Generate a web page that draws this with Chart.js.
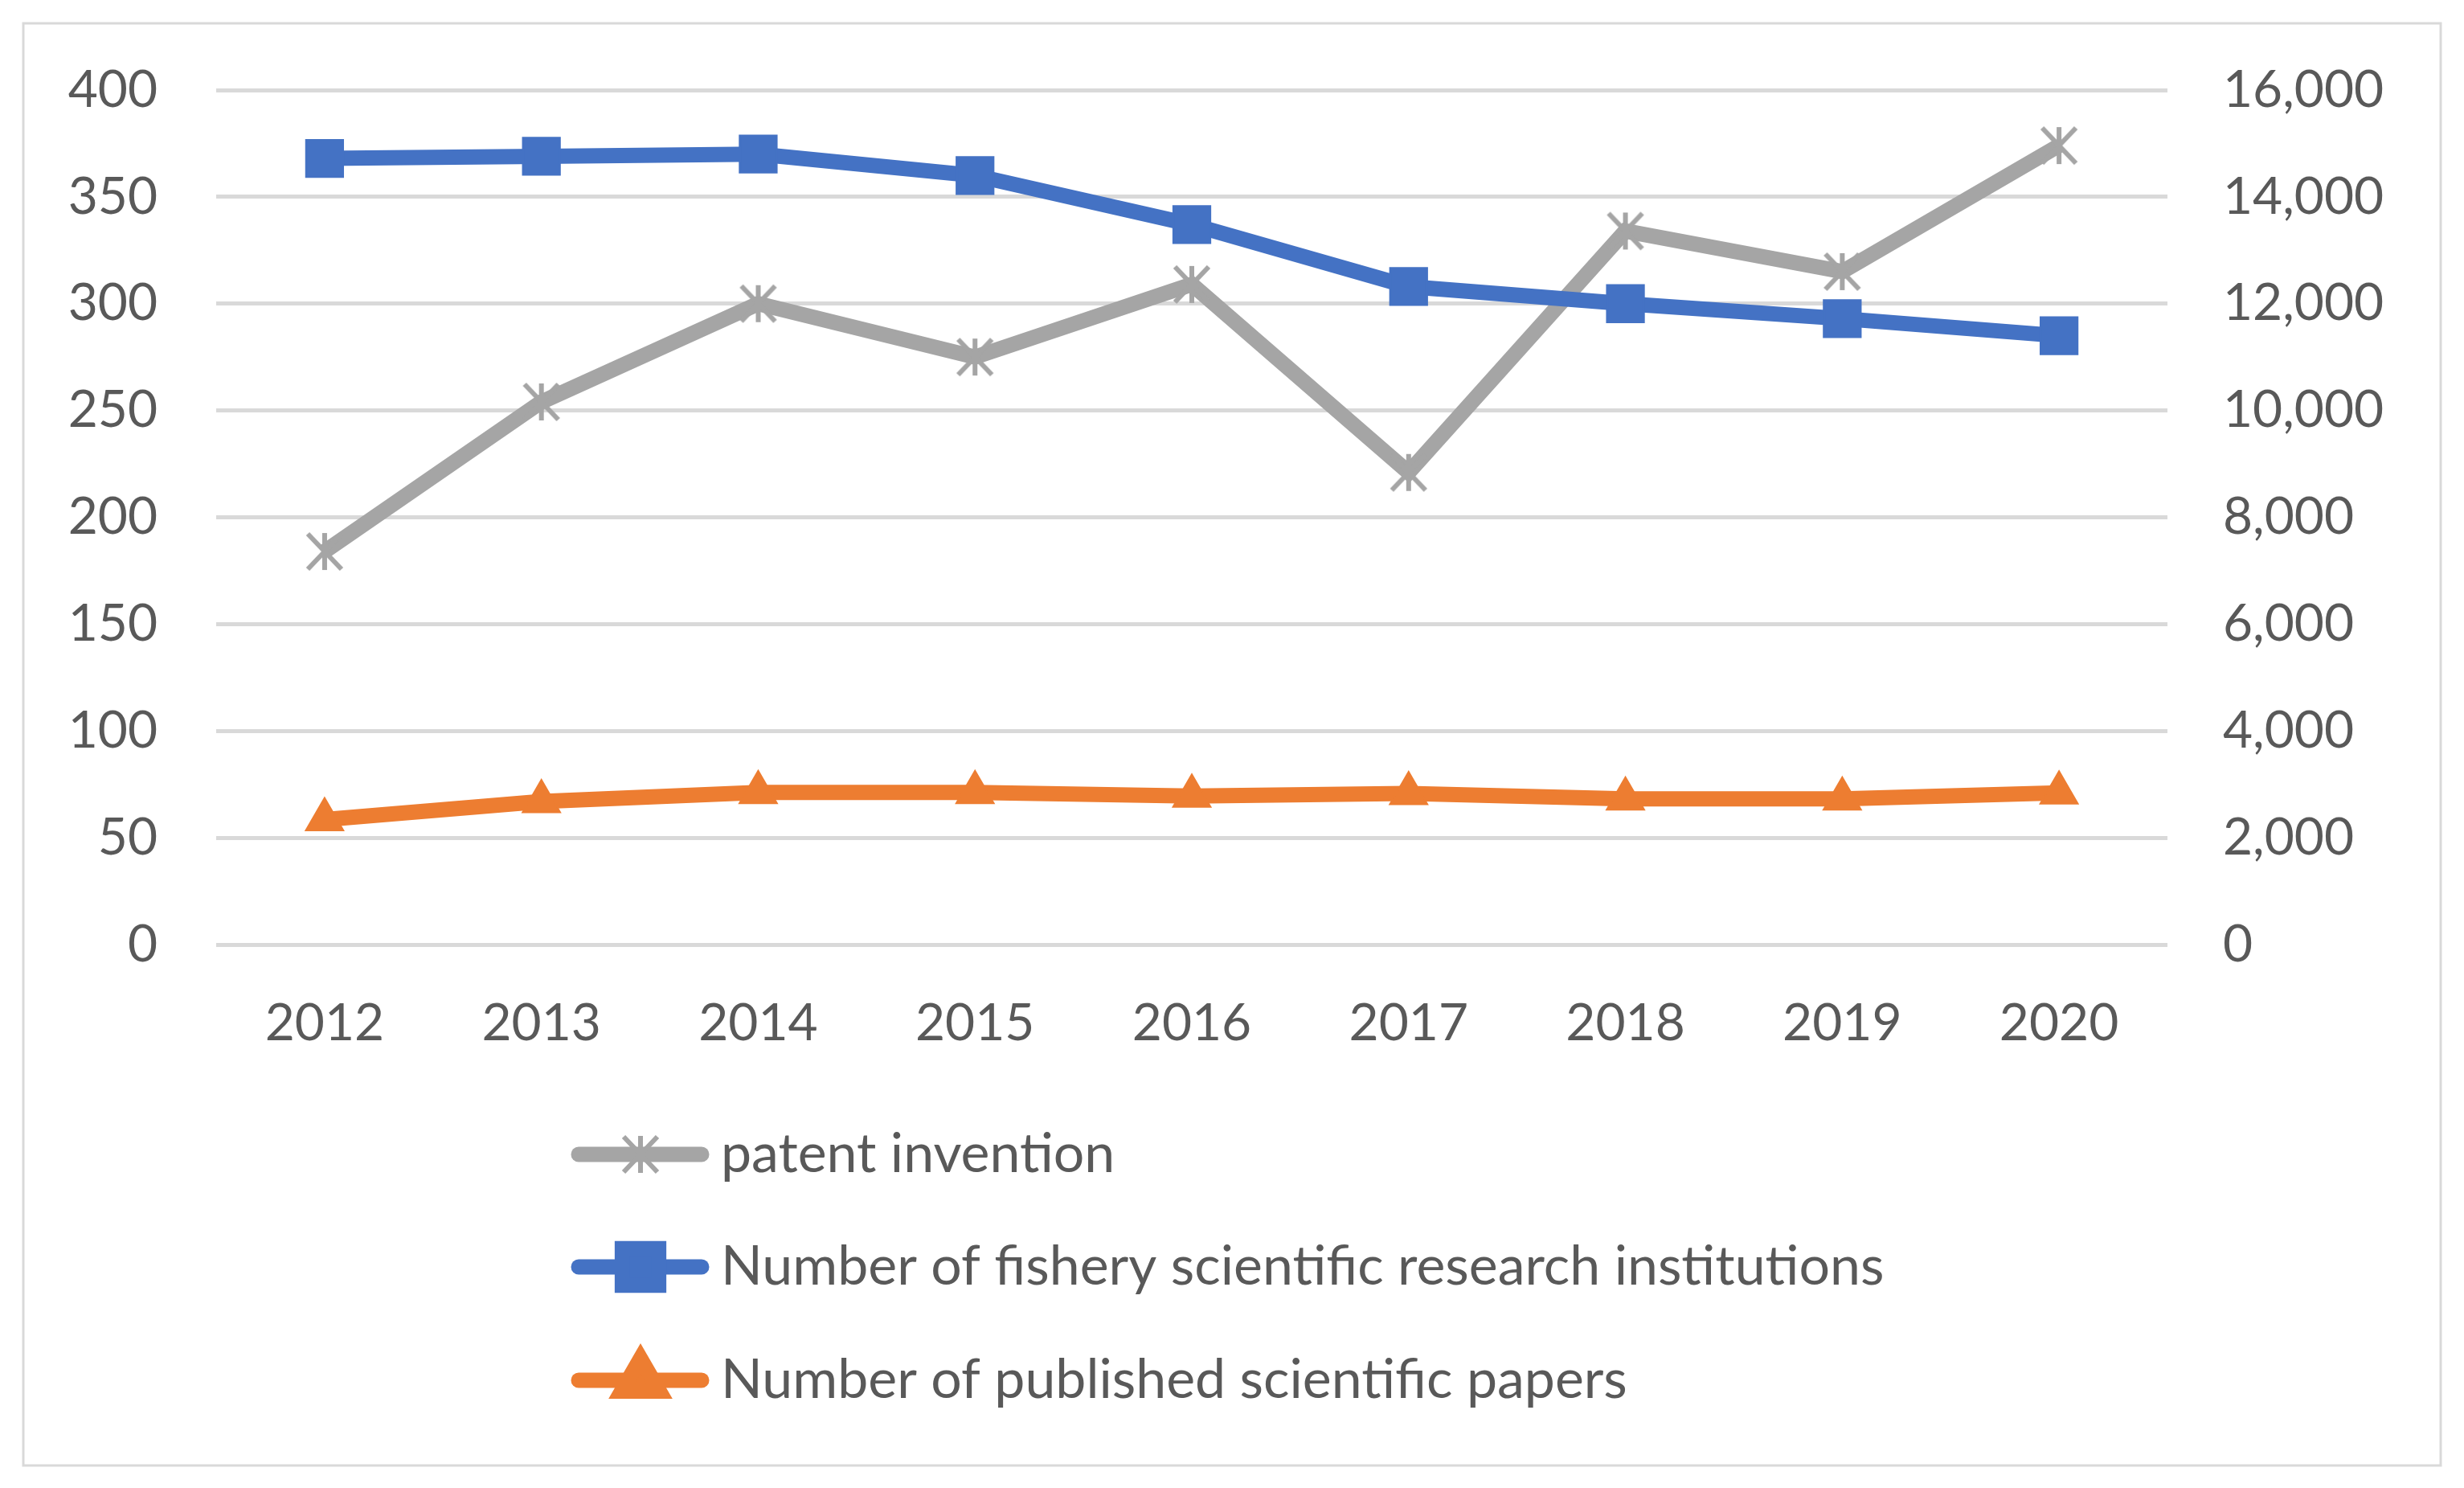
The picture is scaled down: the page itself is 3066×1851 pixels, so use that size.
<!DOCTYPE html>
<html>
<head>
<meta charset="utf-8">
<script src="https://cdn.jsdelivr.net/npm/chart.js@4/dist/chart.umd.min.js"></script>
<style>
  html, body { margin: 0; padding: 0; background: #fff; }
  canvas { display: block; }
</style>
</head>
<body>
<canvas id="chart" width="3066" height="1851"></canvas>
<script>
const years = ["2012", "2013", "2014", "2015", "2016", "2017", "2018", "2019", "2020"];
const patentInvention = [184, 254, 300, 275, 309, 221, 334, 315, 374];
const researchInstitutions = [368, 369, 370, 360, 337, 308, 300, 293, 285];
const publishedPapers = [2340, 2680, 2850, 2850, 2780, 2830, 2730, 2730, 2840];

const leftTicks = [0, 50, 100, 150, 200, 250, 300, 350, 400];
const rightTicks = [0, 2000, 4000, 6000, 8000, 10000, 12000, 14000, 16000];

const textColor = "#595959";
const fontFamily = "Lato, 'Open Sans', sans-serif";

// excel-like asterisk marker: vertical bar plus an X
function makeStar(color) {
  const c = document.createElement("canvas");
  c.width = 52;
  c.height = 52;
  const g = c.getContext("2d");
  g.strokeStyle = color;
  g.lineWidth = 6;
  g.beginPath();
  g.moveTo(26, 3); g.lineTo(26, 49);
  g.moveTo(5, 4); g.lineTo(47, 48);
  g.moveTo(47, 4); g.lineTo(5, 48);
  g.stroke();
  return c;
}

const starMarker = makeStar("#a5a5a5");

// border around the whole picture
const frame = {
  id: "frame",
  beforeDraw(chart) {
    const ctx = chart.ctx;
    ctx.save();
    ctx.strokeStyle = "#d9d9d9";
    ctx.lineWidth = 3;
    ctx.strokeRect(29, 29, 3008, 1794);
    ctx.restore();
  },
};

// one legend entry per row, like the original
const stackedLegend = {
  id: "stackedLegend",
  afterDraw(chart) {
    const ctx = chart.ctx;
    const rows = [1436, 1576, 1717];
    chart.data.datasets.forEach((ds, i) => {
      const y = rows[i];
      ctx.save();
      ctx.strokeStyle = ds.borderColor;
      ctx.lineWidth = ds.borderWidth;
      ctx.lineCap = "round";
      ctx.beginPath();
      ctx.moveTo(720, y);
      ctx.lineTo(873, y);
      ctx.stroke();
      ctx.fillStyle = ds.pointBackgroundColor;
      ctx.strokeStyle = ds.pointBorderColor;
      Chart.helpers.drawPoint(ctx, {
        pointStyle: ds.pointStyle,
        radius: ds.pointRadius,
        borderWidth: ds.pointBorderWidth,
        rotation: 0,
      }, 797, y);
      ctx.fillStyle = textColor;
      ctx.font = `68px ${fontFamily}`;
      ctx.textBaseline = "middle";
      ctx.textAlign = "left";
      ctx.fillText(ds.label, 897, y);
      ctx.restore();
    });
  },
};

new Chart(document.getElementById("chart"), {
  type: "line",
  data: {
    labels: years,
    datasets: [
      {
        label: "patent invention",
        data: patentInvention,
        yAxisID: "y",
        borderColor: "#a5a5a5",
        borderWidth: 19,
        pointStyle: starMarker,
        pointRadius: 26,
        pointBorderWidth: 0,
        pointBackgroundColor: "#a5a5a5",
        pointBorderColor: "#a5a5a5",
        order: 3,
      },
      {
        label: "Number of fishery scientific research institutions",
        data: researchInstitutions,
        yAxisID: "y",
        borderColor: "#4472c4",
        borderWidth: 19,
        pointStyle: "rect",
        pointRadius: 32,
        pointBorderWidth: 3,
        pointBackgroundColor: "#4472c4",
        pointBorderColor: "#4472c4",
        order: 2,
      },
      {
        label: "Number of published scientific papers",
        data: publishedPapers,
        yAxisID: "y2",
        borderColor: "#ed7d31",
        borderWidth: 19,
        pointStyle: "triangle",
        pointRadius: 27,
        pointBorderWidth: 2,
        pointBackgroundColor: "#ed7d31",
        pointBorderColor: "#ed7d31",
        order: 1,
      },
    ],
  },
  options: {
    responsive: false,
    devicePixelRatio: 1,
    animation: false,
    layout: { padding: { top: 112, left: 0, right: 0, bottom: 0 } },
    elements: { line: { tension: 0 } },
    plugins: {
      legend: { display: false },
      title: { display: false },
      tooltip: { enabled: false },
    },
    scales: {
      x: {
        offset: true,
        grid: { display: false, drawTicks: false },
        border: { display: false },
        ticks: {
          color: textColor,
          font: { family: fontFamily, size: 64 },
          padding: 60,
          maxRotation: 0,
        },
        afterFit: (scale) => { scale.height = 676; },
      },
      y: {
        position: "left",
        min: 0,
        max: 400,
        afterBuildTicks: (scale) => { scale.ticks = leftTicks.map((v) => ({ value: v })); },
        grid: { color: "#d9d9d9", lineWidth: 5, drawTicks: false },
        border: { display: false },
        ticks: {
          color: textColor,
          font: { family: fontFamily, size: 64 },
          padding: 73,
        },
        afterFit: (scale) => { scale.width = 269; },
      },
      y2: {
        position: "right",
        min: 0,
        max: 16000,
        afterBuildTicks: (scale) => { scale.ticks = rightTicks.map((v) => ({ value: v })); },
        grid: { display: false, drawTicks: false },
        border: { display: false },
        ticks: {
          color: textColor,
          font: { family: fontFamily, size: 64 },
          padding: 69,
          callback: (v) => Number(v).toLocaleString("en-US"),
        },
        afterFit: (scale) => { scale.width = 369; },
      },
    },
  },
  plugins: [frame, stackedLegend],
});
</script>
</body>
</html>
